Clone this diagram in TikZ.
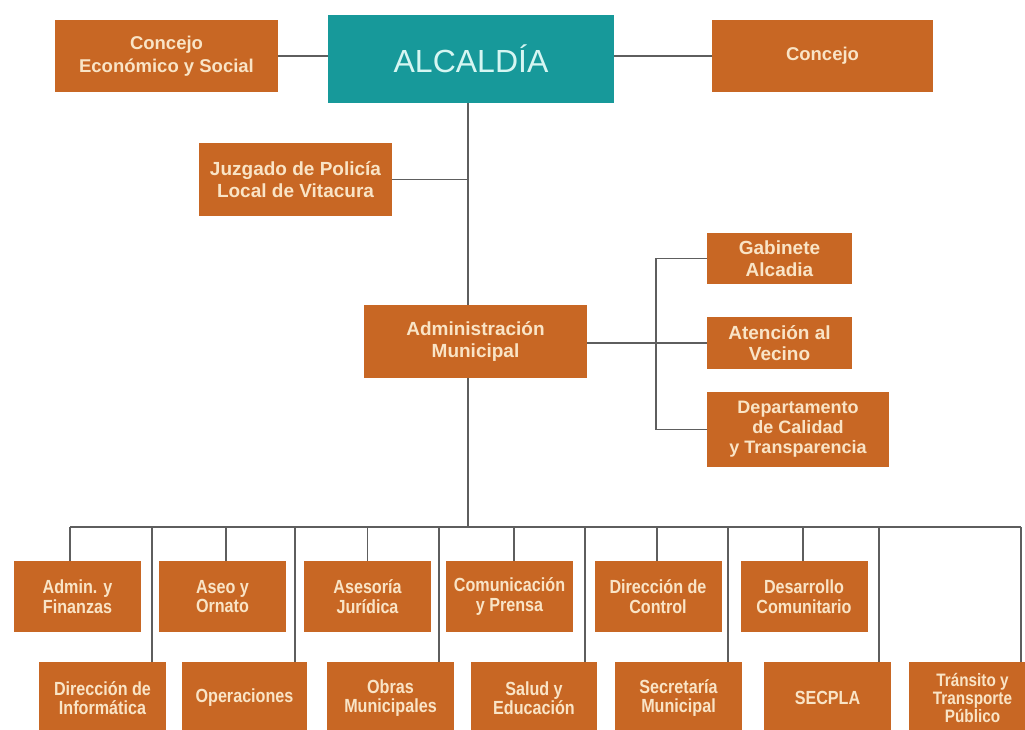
\documentclass[tikz,border=0pt]{standalone}
\usepackage{fontspec}
\setmainfont{Liberation Sans}
\newfontfamily\condfont[FakeStretch=0.85]{Liberation Sans}
\definecolor{boxorange}{HTML}{C86724}
\definecolor{boxtext}{HTML}{F9E4C6}
\definecolor{tealbox}{HTML}{17999A}
\definecolor{tealtext}{HTML}{D6F6F2}
\definecolor{linegray}{HTML}{5E5E5E}
\begin{document}
\begin{tikzpicture}[x=1pt,y=-1pt,
  boxsize/.style 2 args={minimum width=#1pt, minimum height=#2pt},
  obox/.style={fill=boxorange, text=boxtext, align=center, inner sep=0pt,
    font=\bfseries\fontsize{19}{21.5}\selectfont},
  cbox/.style={fill=boxorange, text=boxtext, align=center, inner sep=0pt,
    font=\condfont\bfseries\fontsize{19}{19.5}\selectfont, boxsize={127}{71}},
  link/.style={draw=linegray, line width=1.5pt}]
\useasboundingbox (0,0) rectangle (1025,729);
\clip (0,0) rectangle (1025,729);
\fill[white] (0,0) rectangle (1025,729);

% top level
\node[fill=tealbox, text=tealtext, inner sep=0pt, boxsize={286}{88},
  font=\fontsize{32}{36}\selectfont] (alc) at (471,59) {ALCALDÍA};
\node[obox, boxsize={223}{72}, font=\bfseries\fontsize{18.5}{23}\selectfont]
  (cesoc) at (166.5,56) {Concejo\\Económico y Social};
\node[obox, boxsize={221}{72}, font=\bfseries\fontsize{18.5}{23}\selectfont]
  (conc) at (822.5,56) {Concejo};
\node[obox, boxsize={193}{73}, font=\bfseries\fontsize{19}{22}\selectfont]
  (juz) at (295.5,179.5) {Juzgado de Policía\\Local de Vitacura};
\node[obox, boxsize={223}{73}] (adm) at (475.5,341.5) {Administración\\Municipal};
\node[obox, boxsize={145}{51}] (gab) at (779.5,258.5) {Gabinete\\Alcadia};
\node[obox, boxsize={145}{52}] (ate) at (779.5,343) {Atención al\\Vecino};
\node[obox, boxsize={182}{75}, font=\bfseries\fontsize{18}{20}\selectfont]
  (dep) at (798,429.5) {Departamento\\de Calidad\\y Transparencia};

% first row of departments
\node[cbox] (afin) at (77.5,596.5) {Admin. y\\Finanzas};
\node[cbox] (aseo) at (222.5,596.5) {Aseo y\\Ornato};
\node[cbox] (ases) at (367.5,596.5) {Asesoría\\Jurídica};
\node[cbox] (comu) at (509.5,596.5) {Comunicación\\y Prensa};
\node[cbox] (dcon) at (658,596.5) {Dirección de\\Control};
\node[cbox] (desa) at (804,596.5) {Desarrollo\\Comunitario};

% second row of departments
\node[cbox, boxsize={127}{72}] (dinf) at (102.5,698) {Dirección de\\Informática};
\node[cbox, boxsize={125}{72}] (oper) at (244.5,698) {Operaciones};
\node[cbox, boxsize={127}{72}] (obra) at (390.5,698) {Obras\\Municipales};
\node[cbox, boxsize={126}{72}] (salu) at (534,698) {Salud y\\Educación};
\node[cbox, boxsize={127}{72}] (secr) at (678.5,698) {Secretaría\\Municipal};
\node[cbox, boxsize={127}{72}] (secp) at (827.5,698) {SECPLA};
\node[cbox, boxsize={127}{72}, font=\condfont\bfseries\fontsize{18}{18}\selectfont]
  (tran) at (972.5,698) {Tránsito y\\Transporte\\Público};

% helper coordinates
\coordinate (trunk) at (468,0);
\coordinate (bus) at (0,527);
\coordinate (brk) at (656,0);

% connectors
\draw[link] (cesoc.east) -- (alc.west |- cesoc.east);
\draw[link] (alc.east |- conc.west) -- (conc.west);
\draw[link] (alc.south -| trunk) -- (adm.north -| trunk);
\draw[link] (juz.east) -- (juz.east -| trunk);
\draw[link] (adm.south -| trunk) -- (bus -| trunk);
\draw[link] (adm.east |- ate.west) -- (ate.west);
\draw[link] (gab.west) -| (brk |- dep.west) -- (dep.west);

\draw[link] ([xshift=-7.5pt]afin.north |- bus) -- ([xshift=-15pt]tran.north east |- bus);
\foreach \n/\o in {afin/-7.5, aseo/3.5, ases/0, comu/4.5, dcon/-1, desa/-1}
  \draw[link] ([xshift=\o pt]\n.north) -- ([xshift=\o pt]\n.north |- bus);
\foreach \n/\o in {dinf/14, oper/12, obra/15, salu/12, secr/14, secp/12, tran/15}
  \draw[link] ([xshift=-\o pt]\n.north east) -- ([xshift=-\o pt]\n.north east |- bus);
\end{tikzpicture}
\end{document}
